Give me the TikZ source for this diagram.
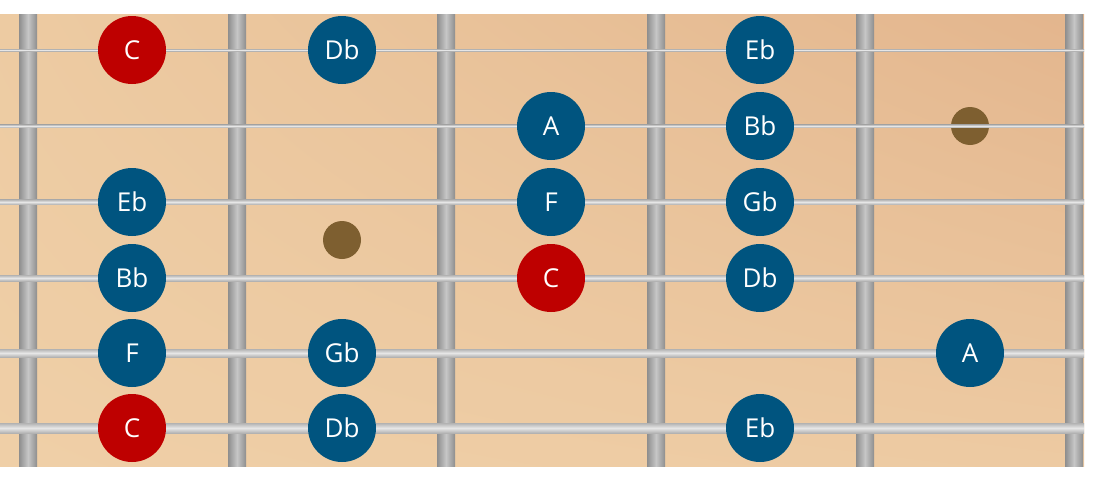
\documentclass[tikz,border=0pt]{standalone}
\usepackage{fontspec}
\setmainfont{Open Sans}
\usetikzlibrary{shadings}
\begin{document}
\begin{tikzpicture}[x=1pt,y=-1pt,
  fretbar/.style={left color=fretd,right color=fretd,middle color=fretl},
  note/.style={circle,fill=noteblue,minimum size=68pt,inner sep=0pt,text=white,font=\fontsize{26}{26}\selectfont},
  root/.style={note,fill=notered},
  inlay/.style={circle,fill=inlayc,minimum size=38pt,inner sep=0pt}]
\definecolor{woodul}{HTML}{EDCBA2}
\definecolor{woodur}{HTML}{E3B58D}
\definecolor{woodll}{HTML}{EFCFA7}
\definecolor{woodlr}{HTML}{EDCAA2}
\definecolor{fretd}{HTML}{8E8E8E}
\definecolor{fretl}{HTML}{C6C6C6}
\definecolor{strd}{HTML}{B2B2B2}
\definecolor{strl}{HTML}{E6E6E6}
\definecolor{noteblue}{HTML}{00547F}
\definecolor{notered}{HTML}{BE0000}
\definecolor{inlayc}{HTML}{7E5F30}
\useasboundingbox (0,0) rectangle (1094,482);
\fill[white] (0,0) rectangle (1094,482);
\shade[upper left=woodul,upper right=woodur,lower left=woodll,lower right=woodlr] (0,14) rectangle (1084,466);
% inlays
\node[inlay] (i1) at (342,240) {};
\node[inlay] (i2) at (970,126) {};
% frets
\foreach \x [count=\i] in {28,237,446,656,865,1074}{
  \shade[fretbar] (\x-9,14) rectangle (\x+9,466);
}
% strings
\foreach \y/\t in {50/2,126/3,202/5,278/6,353/8,428/10}{
  \shade[top color=strd,bottom color=strd,middle color=strl] (0,\y-\t/2) rectangle (1084,\y+\t/2);
}
% notes
\node[root] (n1a) at (132,50) {C};
\node[note] (n1b) at (342,50) {Db};
\node[note] (n1c) at (760,50) {Eb};
\node[note] (n2a) at (551,126) {A};
\node[note] (n2b) at (760,126) {Bb};
\node[note] (n3a) at (132,202) {Eb};
\node[note] (n3b) at (551,202) {F};
\node[note] (n3c) at (760,202) {Gb};
\node[note] (n4a) at (132,278) {Bb};
\node[root] (n4b) at (551,278) {C};
\node[note] (n4c) at (760,278) {Db};
\node[note] (n5a) at (132,353) {F};
\node[note] (n5b) at (342,353) {Gb};
\node[note] (n5c) at (970,353) {A};
\node[root] (n6a) at (132,428) {C};
\node[note] (n6b) at (342,428) {Db};
\node[note] (n6c) at (760,428) {Eb};
\end{tikzpicture}
\end{document}
